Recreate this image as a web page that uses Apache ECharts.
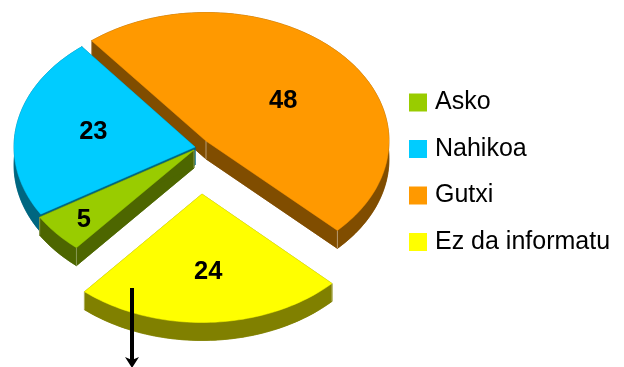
<!DOCTYPE html>
<html><head><meta charset="utf-8">
<style>html,body{margin:0;padding:0;background:#fff}#c{width:624px;height:367px}</style>
<script src="https://cdn.jsdelivr.net/npm/echarts@6/dist/echarts.min.js"></script>
</head><body><div id="c"></div>
<script>
const categories = ['Asko', 'Nahikoa', 'Gutxi', 'Ez da informatu'];
const values = [5, 23, 48, 24];
const topColors = ['#99CC00', '#00CCFF', '#FF9900', '#FFFF00'];
const sideColors = ['#4D6600', '#006680', '#804D00', '#808000'];
const edgeColors = ['#8a9a55', '#006680', '#b89a70', '#b0b060'];
const drawOrder = [3, 2, 1, 4];
// pie layout
const apexes = [[194, 150], [195, 147], [206, 141], [202, 194]];
const labelFractions = [[0.80, 0.81], [0.57, 0.77], [0.57, 0.485], [0.73, 0.595]];
const radiusXs = [181, 181, 183, 181];
const radiusY = 128.5, depth = 18, startAngle = 229.5, labelDrop = 2;

const total = values.reduce((a, b) => a + b, 0);
function sliceRange(i) {
  let a = startAngle;
  for (let k = 0; k < i; k++) a -= values[k] / total * 360;
  return [a, a - values[i] / total * 360];
}
function arcPoints(c, rx, a0, a1, dy) {
  const n = Math.max(4, Math.ceil(Math.abs(a1 - a0) / 1.5)), pts = [];
  for (let j = 0; j <= n; j++) {
    const t = (a0 + (a1 - a0) * j / n) * Math.PI / 180;
    pts.push([c[0] + rx * Math.cos(t), c[1] - radiusY * Math.sin(t) + dy]);
  }
  return pts;
}
function renderSlice(i) {
  return function (params, api) {
    const c = apexes[i], r = sliceRange(i), rx = radiusXs[i];
    const sweep = api.value(0) / total * 360;
    const a0 = r[0], a1 = a0 - sweep;
    const top = arcPoints(c, rx, a0, a1, 0), low = arcPoints(c, rx, a0, a1, depth);
    const side = { fill: sideColors[i], stroke: sideColors[i], lineWidth: 0.5 };
    const els = [];
    const poly = (pts, style) => els.push({ type: 'polygon', shape: { points: pts }, style });
    poly([[c[0], c[1] + depth]].concat(low), side);
    poly(top.concat(low.slice().reverse()), side);
    poly([c, top[0], low[0], [c[0], c[1] + depth]], side);
    poly([c, top[top.length - 1], low[low.length - 1], [c[0], c[1] + depth]], side);
    [c, top[0], top[top.length - 1]].forEach(p => {
      els.push({ type: 'line', shape: { x1: p[0], y1: p[1], x2: p[0], y2: p[1] + depth },
        style: { stroke: edgeColors[i], lineWidth: 1 } });
    });
    poly([c].concat(top), { fill: topColors[i], stroke: topColors[i], lineWidth: 0.5 });
    const mid = (a0 + a1) / 2 * Math.PI / 180, f = labelFractions[i];
    els.push({ type: 'text', style: {
      x: c[0] + rx * f[0] * Math.cos(mid), y: c[1] - radiusY * f[1] * Math.sin(mid) + labelDrop,
      text: String(api.value(0)), fill: '#000', align: 'center', verticalAlign: 'middle',
      font: 'bold 25.5px "Liberation Sans", Arial, sans-serif' } });
    return { type: 'group', children: els };
  };
}
const chart = echarts.init(document.getElementById('c'), null, { renderer: 'canvas' });
chart.setOption({
  animation: false,
  backgroundColor: '#fff',
  legend: {
    data: categories, orient: 'vertical', left: 409, top: 90,
    icon: 'rect', itemWidth: 18, itemHeight: 18, itemGap: 21.5, selectedMode: false, padding: 0,
    textStyle: { fontSize: 25, color: '#000', fontFamily: '"Liberation Sans", Arial, sans-serif', padding: [2, 0, 0, 3] }
  },
  series: categories.map((name, i) => ({
    type: 'custom', name, coordinateSystem: 'none', z: drawOrder[i],
    itemStyle: { color: topColors[i] }, silent: true,
    data: [[values[i]]], renderItem: renderSlice(i)
  })),
  graphic: [
    { type: 'line', z: 100, shape: { x1: 132, y1: 288, x2: 132, y2: 360 }, style: { stroke: '#000', lineWidth: 4 } },
    { type: 'polygon', z: 100, shape: { points: [[125, 357], [132, 360], [139, 357], [132, 368]] }, style: { fill: '#000' } }
  ]
});
</script></body></html>
